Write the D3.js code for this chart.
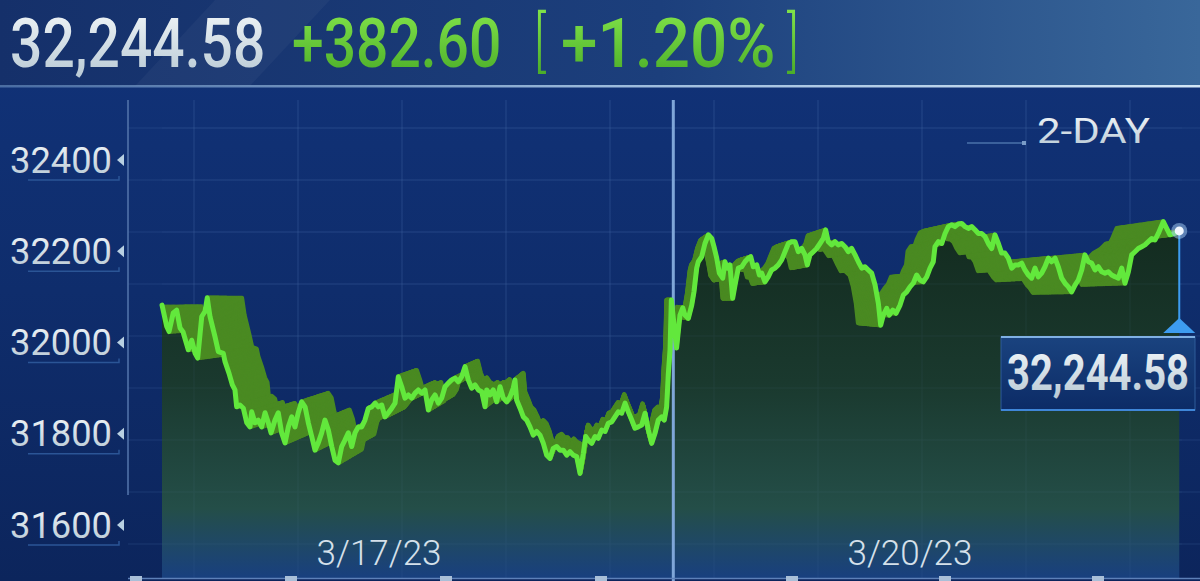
<!DOCTYPE html>
<html><head><meta charset="utf-8">
<script src="https://cdn.jsdelivr.net/npm/d3@7"></script>
<style>html,body{margin:0;padding:0;background:#0e2b68;overflow:hidden}</style>
</head><body><svg id="c" width="1200" height="581"></svg>
<script>
// ---------- data ----------
const dayLabels = ["3/17/23", "3/20/23"];
const dayLabelMinutes = [166, 572];
const yTickValues = [31600, 31800, 32000, 32200, 32400];
const headerLast = "32,244.58";
const headerChange = "+382.60";
const headerPct = "+1.20%";
const legendLabel = "2-DAY";
const lastPrice = 32244.58;
const sessionBreak = 391;

const day1Minutes = [0,3.6,5.4,8.6,11.2,13.8,16.1,20.1,22.7,25.2,
27.3,30.4,32.9,34.6,36.7,40.5,43.1,46.9,48.2,51.2,
53.8,55.8,57.1,59.6,62.2,64.8,67.3,68.6,71.1,73.6,
76.2,78.8,81.3,83.4,86.4,88.9,91.5,94.1,96.6,99.2,
101.7,104.2,106.8,109.4,111.9,114.5,117,119.5,122.1,124.6,
127.2,129.8,132.3,134.8,137.4,139.9,142.5,145.1,147.6,150.1,
152.7,155.2,157.8,160.4,162.9,165.4,168,170.5,173.1,175.7,
178.2,180.7,183.3,185.8,188.4,191,193.5,196,198.6,201.1,
203.7,206.2,208.8,211.3,213.9,216.4,218.9,221.5,224.1,226.6,
229.2,231.7,234.2,236.8,239.4,241.9,244.5,247,248.3,250.8,
253.3,255.9,258.5,261,263.6,266.1,268.6,269.9,271.2,273.8,
276.3,278.9,281.4,283.9,286.5,289.1,291.6,294.2,296.7,299.2,
301.8,304.4,306.9,309.5,312,314.5,317.1,319.7,322.2,324,
326,328.6,331.1,333.6,336.2,338.8,341.3,343.9,346.4,348.9,
351.5,354.1,356.6,359.2,361.7,364.2,366.8,369.4,371.9,374.5,
377,379.5,382.1,384.1,385.9,387.2,388.5];
const day1Prices = [32082,32035,32024,32065,32071,32032,32023,31984,32005,31977,
31966,32057,32068,32098,32057,32013,31980,31976,31958,31933,
31907,31896,31859,31863,31856,31824,31815,31848,31824,31830,
31815,31846,31824,31802,31830,31846,31802,31780,31815,31837,
31815,31846,31870,31859,31824,31794,31764,31780,31802,31830,
31808,31772,31742,31736,31772,31786,31802,31772,31802,31815,
31815,31830,31856,31859,31867,31859,31863,31837,31846,31856,
31867,31925,31903,31878,31885,31878,31889,31896,31889,31896,
31852,31874,31885,31867,31878,31903,31911,31918,31922,31914,
31925,31947,31918,31900,31907,31896,31892,31859,31896,31885,
31896,31870,31903,31878,31870,31881,31900,31918,31874,31856,
31837,31830,31815,31797,31805,31797,31779,31753,31746,31768,
31772,31764,31764,31753,31761,31753,31750,31713,31757,31794,
31786,31779,31794,31790,31808,31805,31823,31826,31837,31848,
31845,31867,31848,31830,31812,31815,31819,31845,31808,31779,
31801,31830,31837,31830,31859,31932,31984];

const day2Minutes = [389.5,393.5,396.1,398.2,399.9,402.5,405.1,406.8,408.9,410.1,
412.7,415.2,417.8,420.4,422.1,424.2,426.2,428.8,430.5,432.3,
434.3,436.4,438.2,440.7,443.3,445.8,448.3,450.2,452.2,454.8,
456.8,458.6,461.1,463.6,466.2,468.7,471.3,473.9,476.4,479,
481.5,484.1,486.6,489.2,491.7,493.5,495.5,498.1,500.6,503.2,
505.7,507.5,509.5,512.1,514.7,517.2,519.8,522.3,524.8,527.4,
530,532.5,535.1,537.6,540.1,542.7,545.3,547.8,549.6,551.6,
554.2,556.2,558.8,561.3,564.4,566.9,569.5,572,574.5,577.1,
579.6,582.2,584.8,587.3,589.8,591.1,593.7,596.3,598.8,601.3,
603.9,606.4,609,611.5,614.1,616.6,619.2,621.7,624.3,626.8,
629.4,631.9,634.5,637,639.6,642.1,644.6,647.2,649.8,652.3,
654.8,657.4,659.9,662.5,665,667.6,670.1,672.7,675.2,677.8,
680.3,682.9,685.4,688,690.5,693.1,695.6,698.2,700.7,703.3,
705.8,708.4,710.9,713.5,716,718.6,721.1,723.7,726.2,728.8,
731.3,733.9,736.4,739,741.5,744.1,746.6,749.2,751.7,754.3,
756.8,759.4,761.9,765.7,768.3,770.8,774.6,777.9];
const day2Prices = [32093,31988,32060,32076,32060,32053,32082,32111,32163,32177,
32188,32217,32236,32228,32210,32185,32152,32141,32177,32163,
32170,32097,32126,32163,32166,32177,32185,32188,32166,32170,
32148,32152,32133,32144,32159,32163,32170,32181,32199,32217,
32221,32221,32199,32206,32192,32170,32192,32199,32206,32217,
32228,32247,32221,32214,32221,32214,32217,32210,32199,32206,
32192,32177,32163,32166,32159,32152,32126,32086,32038,32060,
32075,32060,32071,32064,32082,32104,32111,32122,32130,32148,
32137,32133,32144,32163,32177,32210,32221,32217,32239,32254,
32258,32254,32260,32261,32254,32250,32254,32247,32239,32239,
32232,32217,32206,32236,32217,32196,32196,32185,32163,32170,
32170,32174,32159,32148,32141,32163,32144,32152,32166,32185,
32177,32185,32166,32141,32130,32122,32111,32126,32137,32159,
32192,32177,32174,32159,32166,32155,32152,32155,32148,32144,
32141,32163,32130,32155,32192,32199,32206,32210,32214,32221,
32228,32225,32239,32265,32250,32236,32239,32244.58];

// ---------- setup ----------
const svg = d3.select("#c");
const W = 1200, H = 581;
const x = d3.scaleLinear().domain([0, 780]).range([162, 1182]);
const y = d3.scaleLinear().domain([31600, 32400]).range([525, 160]);
const data = day1Minutes.map((m, i) => ({m, p: day1Prices[i]}))
  .concat(day2Minutes.map((m, i) => ({m, p: day2Prices[i]})));

const defs = svg.append("defs");
function lin(id, x1, y1, x2, y2, stops, units) {
  const g = defs.append("linearGradient").attr("id", id)
    .attr("x1", x1).attr("y1", y1).attr("x2", x2).attr("y2", y2);
  if (units) g.attr("gradientUnits", "userSpaceOnUse");
  stops.forEach(s => g.append("stop").attr("offset", s[0]).attr("stop-color", s[1]).attr("stop-opacity", s[2] == null ? 1 : s[2]));
}
lin("bgG", 0, 0, 0, 1, [[0, "#11337a"], [0.5, "#0f2d6c"], [1, "#0c255c"]]);
lin("hdG", 0, 0, 1, 0, [[0, "#15306a"], [0.55, "#1c3f7c"], [1, "#39679a"]]);
lin("areaG", 0, 220, 0, 580, [[0, "#132b1f"], [0.45, "#1a392e"], [0.8, "#244e48"], [0.9, "#1f4866"], [1, "#183f80"]], true);
lin("whiteTxt", 0, 0, 0, 1, [[0, "#f4f8fa"], [1, "#b4c6d2"]]);
lin("greenTxt", 0, 0, 0, 1, [[0, "#86e84c"], [1, "#46a826"]]);
lin("boxG", 0, 0, 0, 1, [[0, "#1a437f"], [1, "#0c2b66"]]);
lin("sepG", 0, 0, 1, 0, [[0, "#6f95c4", 0.6], [0.5, "#a9c8e6", 0.9], [1, "#d2e6f6", 1]]);

// backgrounds
svg.append("rect").attr("width", W).attr("height", H).attr("fill", "url(#bgG)");
svg.append("rect").attr("width", W).attr("height", 86).attr("fill", "url(#hdG)");
svg.append("polygon").attr("points", "215,0 330,0 250,86 135,86").attr("fill", "#ffffff").attr("opacity", 0.035);
svg.append("rect").attr("x", 0).attr("y", 85).attr("width", W).attr("height", 2.5).attr("fill", "url(#sepG)");

// grid
const grid = svg.append("g").attr("stroke", "#5a82c0").attr("stroke-width", 1);
d3.range(128, 545, 52).forEach(gy => grid.append("line").attr("x1", 128).attr("x2", W).attr("y1", gy).attr("y2", gy).attr("opacity", 0.2));
d3.range(194, 1190, 104).forEach(gx => grid.append("line").attr("x1", gx).attr("x2", gx).attr("y1", 100).attr("y2", 578).attr("opacity", 0.2));

// area
const area = d3.area().x(d => x(d.m)).y0(578).y1(d => y(d.p));
svg.append("path").datum(data).attr("d", area).attr("fill", "url(#areaG)");

// faint grid over area
const grid2 = svg.append("g").attr("stroke", "#7aa0d0").attr("stroke-width", 1).attr("opacity", 0.07);
d3.range(128, 545, 52).forEach(gy => grid2.append("line").attr("x1", 162).attr("x2", 1182).attr("y1", gy).attr("y2", gy));
d3.range(194, 1190, 104).forEach(gx => grid2.append("line").attr("x1", gx).attr("x2", gx).attr("y1", 100).attr("y2", 578));

// extruded band
const linePath = d3.line().x(d => x(d.m)).y(d => y(d.p));
const dPath = linePath(data);
const cx = 615, cy = 300, depth = 0.085, steps = 32;
const band = svg.append("g");
for (let i = steps; i >= 1; i--) {
  const s = 1 - depth * i / steps;
  band.append("path").attr("d", dPath)
    .attr("transform", `translate(${cx},${cy}) scale(${s}) translate(${-cx},${-cy})`)
    .attr("fill", "none").attr("stroke", "#4a8a22").attr("stroke-width", 4.5 / s)
    .attr("stroke-linejoin", "round");
}

// divider
svg.append("line").attr("x1", x(sessionBreak)).attr("x2", x(sessionBreak)).attr("y1", 100).attr("y2", H)
  .attr("stroke", "#7fa6d8").attr("stroke-width", 3);

// main line
svg.append("path").attr("d", dPath).attr("fill", "none").attr("stroke", "#62e83c")
  .attr("stroke-width", 5).attr("stroke-linejoin", "round").attr("stroke-linecap", "round");

// y axis
svg.append("line").attr("x1", 128).attr("x2", 128).attr("y1", 100).attr("y2", 495).attr("stroke", "#5576ad").attr("stroke-width", 1.5);
const yAx = svg.append("g");
yTickValues.forEach(v => {
  const yy = y(v);
  yAx.append("text").attr("x", 112).attr("y", yy).attr("text-anchor", "end").attr("dominant-baseline", "central")
    .attr("font-family", "Roboto, sans-serif").attr("font-size", 37).attr("fill", "url(#whiteTxt)")
    .attr("textLength", 102).attr("lengthAdjust", "spacingAndGlyphs").text(d3.format("d")(v));
  yAx.append("polygon").attr("points", `${117},${yy} ${124},${yy - 6} ${124},${yy + 6}`).attr("fill", "#b8d0e2");
  yAx.append("path").attr("d", `M28,${yy + 20} H119 V${yy + 16}`).attr("fill", "none").attr("stroke", "#2b5596").attr("stroke-width", 1.5);
});

// x axis
svg.append("line").attr("x1", 128).attr("x2", W).attr("y1", 578.5).attr("y2", 578.5).attr("stroke", "#5d80b8").attr("stroke-width", 1.5);
[136, 291, 446, 601, 792, 945, 1098].forEach(tx => svg.append("rect").attr("x", tx - 6).attr("y", 576).attr("width", 12).attr("height", 5).attr("fill", "#a9bfd8"));
dayLabels.forEach((t, i) => {
  svg.append("text").attr("x", x(dayLabelMinutes[i])).attr("y", 565).attr("text-anchor", "middle")
    .attr("font-family", "Roboto, sans-serif").attr("font-weight", 300).attr("font-size", 35)
    .attr("fill", "#d5e0ea").text(t);
});

// legend
svg.append("line").attr("x1", 967).attr("x2", 1024).attr("y1", 143).attr("y2", 143).attr("stroke", "#4a72aa").attr("stroke-width", 1.5);
svg.append("rect").attr("x", 1022).attr("y", 141).attr("width", 4).attr("height", 4).attr("fill", "#7a9cc8");
svg.append("text").attr("x", 1037).attr("y", 143).attr("font-family", "Roboto, sans-serif").attr("font-size", 35)
  .attr("fill", "url(#whiteTxt)").attr("textLength", 113).attr("lengthAdjust", "spacingAndGlyphs").text(legendLabel);

// header (condensed look through scaling)
const hd = svg.append("g").attr("font-family", "Roboto, sans-serif");
function hText(txt, tx, ty, size, sx, sy, weight, fill) {
  hd.append("text").attr("transform", `translate(${tx},${ty}) scale(${sx},${sy})`)
    .attr("font-size", size).attr("font-weight", weight).attr("fill", fill).text(txt);
}
hText(headerLast, 10, 67, 57, 1, 1.2, 500, "url(#whiteTxt)");
hText(headerChange, 292, 67, 57, 1, 1.2, 500, "url(#greenTxt)");
hText("[", 534, 64, 55, 0.9, 1.2, 300, "url(#greenTxt)");
hText(headerPct, 561, 67, 57, 1.15, 1.2, 500, "url(#greenTxt)");
hText("]", 787, 64, 55, 0.9, 1.2, 300, "url(#greenTxt)");

// last value marker
const lx = x(day2Minutes[day2Minutes.length - 1]), ly = y(lastPrice);
svg.append("line").attr("x1", lx).attr("x2", lx).attr("y1", ly).attr("y2", 322).attr("stroke", "#3d9cf0").attr("stroke-width", 2);
svg.append("polygon").attr("points", `${lx},${318} ${lx - 16},${333} ${lx + 16},${333}`).attr("fill", "#3d9cf0");
svg.append("circle").attr("cx", lx).attr("cy", ly).attr("r", 8).attr("fill", "#9cc4ec").attr("opacity", 0.55);
svg.append("circle").attr("cx", lx).attr("cy", ly).attr("r", 4.5).attr("fill", "#f2f8ff");

svg.append("rect").attr("x", 1001).attr("y", 337).attr("width", 194).attr("height", 73).attr("fill", "url(#boxG)")
  .attr("stroke", "#2f5d9a").attr("stroke-width", 1);
svg.append("line").attr("x1", 1001).attr("x2", 1195).attr("y1", 337).attr("y2", 337).attr("stroke", "#7fb0e4").attr("stroke-width", 2);
svg.append("line").attr("x1", 1001).attr("x2", 1195).attr("y1", 410).attr("y2", 410).attr("stroke", "#3f86d8").attr("stroke-width", 2);
svg.append("text").attr("transform", `translate(1098,390) scale(1,1.27)`).attr("text-anchor", "middle")
  .attr("font-family", "Roboto, sans-serif").attr("font-weight", 700)
  .attr("font-size", 40).attr("fill", "url(#whiteTxt)")
  .text(d3.format(",.2f")(lastPrice));
</script></body></html>
